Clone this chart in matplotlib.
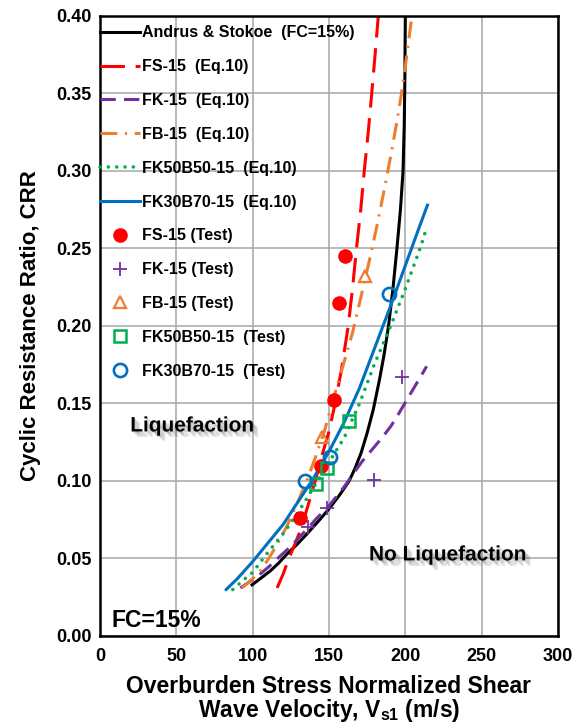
import matplotlib
matplotlib.use("Agg")
import matplotlib.pyplot as plt
import matplotlib.patheffects as pe

plt.rcParams["font.family"] = "Liberation Sans"
plt.rcParams["font.weight"] = "bold"
plt.rcParams["mathtext.fontset"] = "custom"
plt.rcParams["mathtext.rm"] = "Liberation Sans:bold"
plt.rcParams["mathtext.bf"] = "Liberation Sans:bold"

# --- curves (Vs1 in m/s, CRR) ---
as_vs = [99.6, 105, 111.6, 117, 122.6, 129, 135.7, 143, 150, 157, 163.2, 167, 171,
         175, 179, 183, 186, 189, 192, 194.5, 196.8, 198.5, 199.3, 199.7, 200]
as_crr = [0.033, 0.037, 0.042, 0.047, 0.053, 0.059, 0.066, 0.074, 0.082, 0.091, 0.100,
          0.108, 0.118, 0.131, 0.146, 0.165, 0.181, 0.200, 0.225, 0.250, 0.275, 0.300,
          0.330, 0.360, 0.400]

fs_vs = [116, 120, 123.7, 128, 132, 136.5, 141, 145, 150, 154, 158.2, 162.6, 165.5,
         168, 170.8, 173.1, 175.7, 178, 180.2, 182.3]
fs_crr = [0.031, 0.040, 0.050, 0.060, 0.070, 0.085, 0.100, 0.115, 0.132, 0.150, 0.172,
          0.200, 0.225, 0.250, 0.275, 0.300, 0.325, 0.350, 0.375, 0.400]

fk_vs = [92, 98, 105, 111, 117, 123, 129, 135.7, 142, 148.9, 155, 160.5, 166.4, 172,
         178, 184, 190.6, 196, 202, 208, 214]
fk_crr = [0.031, 0.035, 0.040, 0.045, 0.0506, 0.056, 0.062, 0.069, 0.076, 0.0828, 0.090,
          0.097, 0.1054, 0.113, 0.120, 0.127, 0.1354, 0.144, 0.154, 0.164, 0.174]

fb_vs = [93, 100, 105, 110.5, 116, 122, 128.5, 135.4, 141, 147.4, 152, 158.5, 165.5,
         171, 176.4, 181.5, 186.2, 190.5, 194.5, 197.5, 201, 204.3]
fb_crr = [0.031, 0.037, 0.042, 0.050, 0.059, 0.070, 0.084, 0.100, 0.115, 0.1335, 0.150,
          0.172, 0.196, 0.219, 0.242, 0.265, 0.288, 0.310, 0.332, 0.350, 0.375, 0.400]

fk50_vs = [87, 95, 100, 110, 120, 130, 140, 150, 160, 170, 180, 190, 200, 210, 213.5]
fk50_crr = [0.030, 0.037, 0.041, 0.054, 0.066, 0.080, 0.096, 0.112, 0.128, 0.150, 0.176,
            0.199, 0.224, 0.251, 0.262]

fk30_vs = [82.7, 90, 100, 110, 120, 130, 140, 150, 160, 170, 180, 190, 200, 207, 214.5]
fk30_crr = [0.030, 0.037, 0.048, 0.060, 0.072, 0.087, 0.102, 0.119, 0.138, 0.160, 0.186,
            0.212, 0.239, 0.258, 0.278]

# --- test points ---
fs_test_vs = [130.7, 144.5, 153.2, 156.7, 160.8]
fs_test_crr = [0.0764, 0.1097, 0.152, 0.215, 0.245]
fk_test_vs = [136.2, 148.5, 179.6, 197.8]
fk_test_crr = [0.0706, 0.0828, 0.1004, 0.1674]
fb_test_vs = [145.4, 173.4]
fb_test_crr = [0.1285, 0.232]
fk50_test_vs = [141.2, 148.7, 163.1]
fk50_test_crr = [0.098, 0.1086, 0.139]
fk30_test_vs = [134.2, 150.4, 189.6]
fk30_test_crr = [0.0998, 0.1152, 0.2206]

RED = "#FF0000"
PURPLE = "#7030A0"
ORANGE = "#ED7D31"
GREEN = "#00B050"
BLUE = "#0070C0"

fig = plt.figure(figsize=(5.83, 7.27), dpi=100)
ax = fig.add_axes([0.1715, 0.1252, 0.7856, 0.8528])

lw = 2.2
ax.plot(as_vs, as_crr, color="black", lw=lw, label="Andrus & Stokoe  (FC=15%)")
ax.plot(fs_vs, fs_crr, color=RED, lw=lw, ls=(0, (8, 3.5)), label="FS-15  (Eq.10)")
ax.plot(fk_vs, fk_crr, color=PURPLE, lw=lw, ls=(0, (5, 2.7)), label="FK-15  (Eq.10)")
ax.plot(fb_vs, fb_crr, color=ORANGE, lw=lw, ls=(0, (5.5, 2.5, 0.7, 2.5)),
        label="FB-15  (Eq.10)")
ax.plot(fk50_vs, fk50_crr, color=GREEN, lw=2.6, ls=(0, (0.01, 2.3)),
        dash_capstyle="round", label="FK50B50-15  (Eq.10)")
ax.plot(fk30_vs, fk30_crr, color=BLUE, lw=lw, label="FK30B70-15  (Eq.10)")

ax.plot(fs_test_vs, fs_test_crr, "o", color=RED, ms=9.5, label="FS-15 (Test)")
ax.plot(fk_test_vs, fk_test_crr, "+", color=PURPLE, ms=9.5, mew=1.3, label="FK-15 (Test)")
ax.plot(fb_test_vs, fb_test_crr, "^", mfc="none", mec=ORANGE, ms=8.5, mew=1.6,
        label="FB-15 (Test)")
ax.plot(fk50_test_vs, fk50_test_crr, "s", mfc="none", mec=GREEN, ms=8.5, mew=1.8,
        label="FK50B50-15  (Test)")
ax.plot(fk30_test_vs, fk30_test_crr, "o", mfc="none", mec=BLUE, ms=9.5, mew=1.9,
        label="FK30B70-15  (Test)")

ax.set_xlim(0, 300)
ax.set_ylim(0, 0.40)
ax.set_xticks(range(0, 301, 50))
ax.set_yticks([i * 0.05 for i in range(9)])
ax.set_yticklabels(["%.2f" % (i * 0.05) for i in range(9)])
ax.grid(True, color="#A6A6A6", lw=1.1)
ax.set_axisbelow(True)
ax.tick_params(length=0, labelsize=13)
ax.tick_params(axis="x", pad=9)
ax.tick_params(axis="y", pad=6)
for s in ax.spines.values():
    s.set_linewidth(1.8)

ax.set_xlabel("Overburden Stress Normalized Shear\nWave Velocity, V$_{\\mathbf{s1}}$ (m/s)",
              fontsize=16.5, fontweight="bold", labelpad=7, linespacing=0.95)
ax.set_ylabel("Cyclic Resistance Ratio, CRR", fontsize=16, fontweight="bold", labelpad=11)

# soft drop shadow behind the region labels
shadow = [pe.SimplePatchShadow(offset=(o, -o), shadow_rgbFace="0.3", alpha=0.13)
          for o in (1.0, 2.0, 3.0, 4.0)] + [pe.Normal()]
ax.text(60.6, 0.1355, "Liquefaction", fontsize=15, ha="center", va="center",
        path_effects=shadow)
ax.text(228, 0.0523, "No Liquefaction", fontsize=15, ha="center", va="center",
        path_effects=shadow)
ax.text(0.025, 0.015, "FC=15%", fontsize=16.5, transform=ax.transAxes,
        ha="left", va="baseline")

leg = ax.legend(loc="upper left", bbox_to_anchor=(0, 0.985), frameon=False,
                fontsize=11.5, borderpad=0, borderaxespad=0, handlelength=2.5,
                handletextpad=0.15, labelspacing=1.18, numpoints=1)

fig.savefig("out.png", dpi=100)
